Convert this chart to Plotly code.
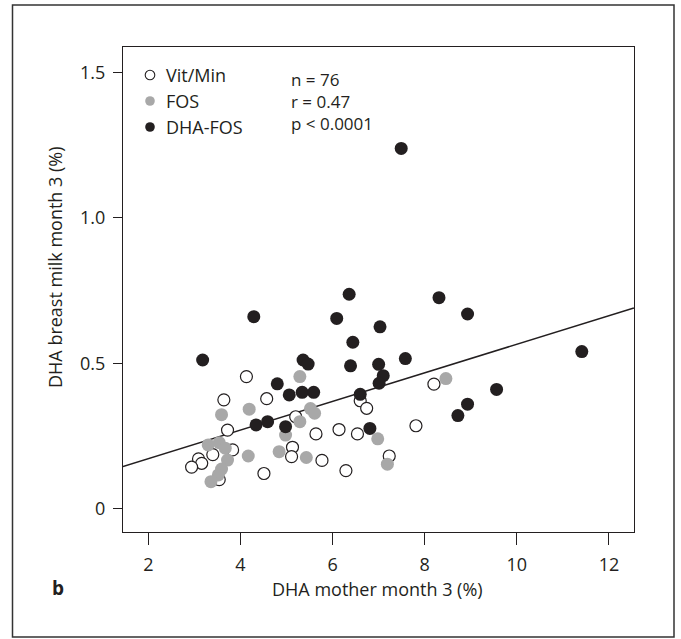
import plotly.graph_objects as go

# ---- data ----
vit_x = [4.13, 3.64, 4.57, 3.72, 5.20, 5.64, 3.83, 3.40, 3.09, 3.16, 2.94, 5.13,
         5.11, 4.51, 5.77, 6.14, 6.54, 6.29, 8.20, 6.60, 6.74, 7.23, 7.81, 3.54]
vit_y = [0.454, 0.374, 0.378, 0.270, 0.316, 0.257, 0.202, 0.186, 0.171, 0.156, 0.143, 0.211,
         0.179, 0.121, 0.166, 0.272, 0.257, 0.131, 0.428, 0.371, 0.345, 0.181, 0.285, 0.100]

fos_x = [5.29, 3.59, 4.19, 5.52, 5.61, 5.29, 4.98, 3.30, 3.54, 3.67, 3.72, 3.59,
         3.52, 3.36, 4.17, 4.84, 5.43, 8.46, 6.98, 7.19]
fos_y = [0.454, 0.323, 0.342, 0.344, 0.328, 0.299, 0.253, 0.219, 0.227, 0.208, 0.167, 0.136,
         0.116, 0.093, 0.181, 0.196, 0.176, 0.447, 0.240, 0.153]

dha_x = [7.49, 3.18, 5.36, 5.47, 4.80, 5.06, 5.34, 5.59, 4.34, 4.59, 4.98, 6.36,
         8.31, 8.93, 6.09, 7.03, 6.44, 6.39, 7.00, 7.58, 7.10, 7.01, 6.60, 6.81,
         8.93, 8.72, 11.41, 9.56, 4.29]
dha_y = [1.238, 0.511, 0.511, 0.497, 0.429, 0.391, 0.400, 0.400, 0.288, 0.299, 0.282, 0.737,
         0.725, 0.669, 0.654, 0.625, 0.572, 0.491, 0.496, 0.516, 0.457, 0.431, 0.393, 0.276,
         0.359, 0.320, 0.540, 0.410, 0.660]

fit_x = [1.45, 12.54]
fit_y = [0.145, 0.690]

x_ticks = [2, 4, 6, 8, 10, 12]
y_ticks = [0, 0.5, 1.0, 1.5]
y_tick_labels = ["0", "0.5", "1.0", "1.5"]

legend_labels = ["Vit/Min", "FOS", "DHA-FOS"]
stats_lines = ["n = 76", "r = 0.47", "p < 0.0001"]
x_title = "DHA mother month 3 (%)"
y_title = "DHA breast milk month 3 (%)"
panel_label = "b"

# ---- styling ----
INK = "#231f20"
GRAY = "#a8a8a8"
FONT = "Open Sans"
FS = 18

fig = go.Figure()

fig.add_trace(go.Scatter(x=fit_x, y=fit_y, mode="lines",
                         line=dict(color=INK, width=1.5), showlegend=False, hoverinfo="skip"))
fig.add_trace(go.Scatter(x=vit_x, y=vit_y, mode="markers", name=legend_labels[0],
                         marker=dict(size=12, color="white", line=dict(color=INK, width=1.2)),
                         showlegend=False))
fig.add_trace(go.Scatter(x=fos_x, y=fos_y, mode="markers", name=legend_labels[1],
                         marker=dict(size=13, color=GRAY, line=dict(width=0)),
                         showlegend=False))
fig.add_trace(go.Scatter(x=dha_x, y=dha_y, mode="markers", name=legend_labels[2],
                         marker=dict(size=13, color=INK, line=dict(width=0)),
                         showlegend=False))

L, R, T, B = 123, 47, 47, 107
W, H = 681, 639
PW, PH = W - L - R, H - T - B


def px(xp):
    return (xp - L) / PW


def py(yp):
    return (H - B - yp) / PH


shapes = [
    # outer panel frame
    dict(type="rect", xref="paper", yref="paper",
         x0=px(12.5), x1=px(674), y0=py(637), y1=py(5),
         line=dict(color="#333333", width=1.5), fillcolor="rgba(0,0,0,0)", layer="below"),
]

# manual legend markers
leg_y = [75, 101, 127]
leg_styles = [dict(fillcolor="white", line=dict(color=INK, width=1.1)),
              dict(fillcolor=GRAY, line=dict(width=0)),
              dict(fillcolor=INK, line=dict(width=0))]
for yy, st in zip(leg_y, leg_styles):
    shapes.append(dict(type="circle", xref="paper", yref="paper",
                       xsizemode="pixel", ysizemode="pixel",
                       xanchor=px(150), yanchor=py(yy),
                       x0=-4.8, x1=4.8, y0=-4.8, y1=4.8, **st))

annotations = []
for lab, yy in zip(legend_labels, leg_y):
    annotations.append(dict(xref="paper", yref="paper", x=px(164), y=py(yy),
                            xanchor="left", yanchor="middle", showarrow=False,
                            text=lab, font=dict(family=FONT, size=FS, color=INK)))
annotations.append(dict(xref="paper", yref="paper", x=px(289), y=py(101),
                        xanchor="left", yanchor="middle", align="left", showarrow=False,
                        text="<br>".join(stats_lines),
                        font=dict(family=FONT, size=FS - 1, color=INK)))
annotations.append(dict(xref="paper", yref="paper", x=px(377), y=py(589),
                        xanchor="center", yanchor="middle", showarrow=False,
                        text=x_title, font=dict(family=FONT, size=FS, color=INK)))
annotations.append(dict(xref="paper", yref="paper", x=px(55), y=py(267),
                        xanchor="center", yanchor="middle", showarrow=False, textangle=-90,
                        text=y_title, font=dict(family=FONT, size=FS, color=INK)))
annotations.append(dict(xref="paper", yref="paper", x=px(58), y=py(588),
                        xanchor="center", yanchor="middle", showarrow=False,
                        text="<b>" + panel_label + "</b>",
                        font=dict(family=FONT, size=FS + 1, color=INK)))

fig.update_layout(
    width=W, height=H, autosize=False,
    margin=dict(l=L, r=R, t=T, b=B, pad=0),
    paper_bgcolor="white", plot_bgcolor="white",
    font=dict(family=FONT, size=FS, color=INK),
    shapes=shapes, annotations=annotations, showlegend=False,
    xaxis=dict(range=[1.451, 12.543], tickvals=x_ticks, ticks="outside", ticklen=12,
               tickwidth=1, tickcolor=INK, showline=True, linecolor=INK, linewidth=1,
               mirror=True, showgrid=False, zeroline=False, ticklabelstandoff=4,
               tickfont=dict(family=FONT, size=FS, color=INK)),
    yaxis=dict(range=[-0.0801, 1.5866], tickvals=y_ticks, ticktext=y_tick_labels,
               ticks="outside", ticklen=9, tickwidth=1, tickcolor=INK, showline=True,
               linecolor=INK, linewidth=1, mirror=True, showgrid=False, zeroline=False,
               ticklabelstandoff=4, tickfont=dict(family=FONT, size=FS, color=INK)),
)

fig.write_html("out.html", config={"displayModeBar": False},
               post_script="document.body.style.margin='0';")
